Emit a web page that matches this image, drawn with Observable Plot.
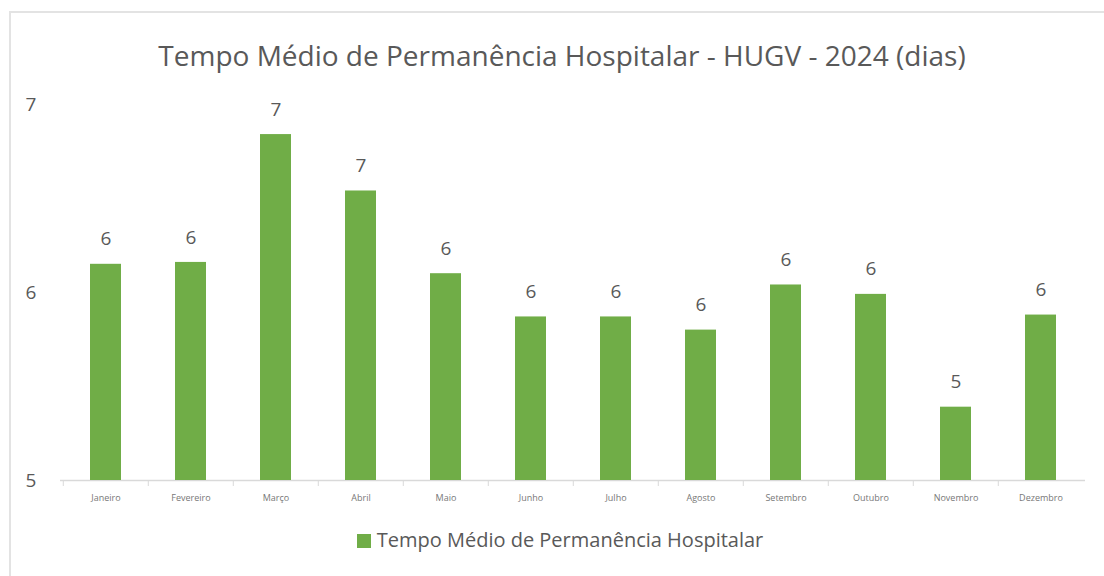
<!DOCTYPE html>
<html>
<head>
<meta charset="utf-8">
<script src="https://cdn.jsdelivr.net/npm/d3@7"></script>
<script src="https://cdn.jsdelivr.net/npm/@observablehq/plot@0.6"></script>
<style>
  html, body { margin: 0; padding: 0; background: #fff; width: 1104px; height: 576px; overflow: hidden; }
  #frame { position: absolute; left: 9px; top: 11px; width: 1120px; height: 600px; border: 2px solid #e3e3e3; box-sizing: border-box; }
  #title { position: absolute; left: 0; width: 1124px; top: 36px; text-align: center; font-family: "Open Sans", sans-serif; font-size: 28px; letter-spacing: 0px; color: #595959; white-space: nowrap; }
  #chart { position: absolute; left: 0; top: 0; }
  #legend { position: absolute; left: 0; width: 1120px; top: 526px; text-align: center; font-family: "Open Sans", sans-serif; font-size: 20px; color: #595959; white-space: nowrap; }
  #legend .sw { display: inline-block; width: 14px; height: 14px; background: #70AD47; margin-right: 6px; vertical-align: -1px; }
</style>
</head>
<body>
<div id="frame"></div>
<div id="chart"></div>
<div id="title">Tempo Médio de Permanência Hospitalar - HUGV - 2024 (dias)</div>
<div id="legend"><span class="sw"></span>Tempo Médio de Permanência Hospitalar</div>
<script>
const months = ["Janeiro","Fevereiro","Março","Abril","Maio","Junho","Julho","Agosto","Setembro","Outubro","Novembro","Dezembro"];
const values = [6.15, 6.16, 6.84, 6.54, 6.10, 5.87, 5.87, 5.80, 6.04, 5.99, 5.39, 5.88];
const yTicks = [5, 6, 7];
const seriesName = "Tempo Médio de Permanência Hospitalar";

const data = months.map((m, i) => ({month: m, value: values[i]}));

const W = 1104, H = 576;
const mL = 60, mR = 19, mT = 104, mB = 96;
const bandW = (W - mL - mR) / months.length;

const plot = Plot.plot({
  width: W,
  height: H,
  marginLeft: mL,
  marginRight: mR,
  marginTop: mT,
  marginBottom: mB,
  style: {fontFamily: "Open Sans, sans-serif", background: "transparent", overflow: "visible"},
  x: {domain: months, paddingInner: 0.64, paddingOuter: 0.32, label: null},
  y: {domain: [5, 7], label: null},
  marks: [
    Plot.ruleY([5], {stroke: "#d9d9d9", strokeWidth: 1.5}),
    Plot.barY(data, {x: "month", y1: 5, y2: "value", fill: "#70AD47"}),
    Plot.text(data, {x: "month", y: "value", text: d => Math.round(d.value).toString(), dy: -25, fill: "#595959", fontSize: 19}),
    Plot.axisY(yTicks, {tickSize: 0, tickPadding: 0, dx: -35, fontSize: 19, fill: "#595959", textAnchor: "start", tickFormat: d => String(d), label: null}),
    Plot.axisX({tickSize: 0, tickPadding: 14, fontSize: 9, fill: "#777", label: null}),
    Plot.axisX({tickSize: 6, tickFormat: () => "", dx: -bandW / 2, stroke: "#d9d9d9", label: null})
  ]
});
document.getElementById("chart").appendChild(plot);
</script>
</body>
</html>
